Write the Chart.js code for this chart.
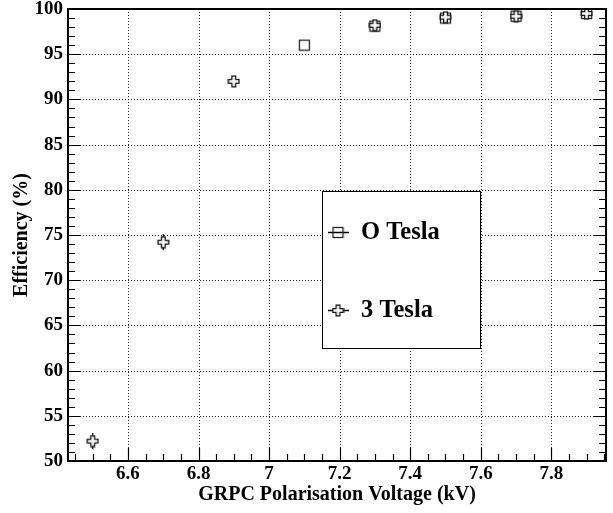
<!DOCTYPE html>
<html lang="en">
<head>
<meta charset="UTF-8">
<title>GRPC efficiency vs polarisation voltage</title>
<script src="https://cdn.jsdelivr.net/npm/chart.js"></script>
<style>
  body { margin: 0; background: #fff; }
  #wrap { width: 613px; height: 513px; }
</style>
</head>
<body>
<div id="wrap"><canvas id="effChart" width="613" height="513"></canvas></div>
<script>
// values
const voltage0T = [7.1, 7.3, 7.5, 7.7, 7.9];
const eff0T = [96.0, 98.1, 99.0, 99.2, 99.5];
const voltage3T = [6.5, 6.7, 6.9, 7.3, 7.5, 7.7, 7.9];
const eff3T = [52.2, 74.2, 92.0, 98.2, 99.1, 99.2, 99.5];
const err3T = [0.9, 0.9, 0.4, 0.6, 0.4, 0.3, 0.4];
const seriesLabels = ['O Tesla', '3 Tesla'];
const xTicks = [6.6, 6.8, 7.0, 7.2, 7.4, 7.6, 7.8];
const yTicks = [50, 55, 60, 65, 70, 75, 80, 85, 90, 95, 100];

const FONT = "'Liberation Serif', 'DejaVu Serif', serif";

// ROOT-like hollow markers
function makeSquare() {
    const c = document.createElement('canvas');
    c.width = 13; c.height = 13;
    const g = c.getContext('2d');
    g.strokeStyle = '#222';
    g.lineWidth = 1.3;
    g.strokeRect(1.5, 1.5, 10, 10);
    return c;
}
function makeOpenCross() {
    const c = document.createElement('canvas');
    c.width = 13; c.height = 13;
    const g = c.getContext('2d');
    const m = 6.5, a = 1.9, s = 5.3;
    g.strokeStyle = '#111';
    g.lineWidth = 1.3;
    g.fillStyle = '#fff';
    g.beginPath();
    g.moveTo(m - a, m - s); g.lineTo(m + a, m - s); g.lineTo(m + a, m - a);
    g.lineTo(m + s, m - a); g.lineTo(m + s, m + a); g.lineTo(m + a, m + a);
    g.lineTo(m + a, m + s); g.lineTo(m - a, m + s); g.lineTo(m - a, m + a);
    g.lineTo(m - s, m + a); g.lineTo(m - s, m - a); g.lineTo(m - a, m - a);
    g.closePath();
    g.fill();
    g.stroke();
    return c;
}
const squareImg = makeSquare();
const crossImg = makeOpenCross();

// grid, frame, ticks, error bars and legend box in ROOT style
const rootStyle = {
    id: 'rootStyle',
    beforeDatasetsDraw(chart) {
        const ctx = chart.ctx, a = chart.chartArea;
        const xs = chart.scales.x, ys = chart.scales.y;
        ctx.save();
        ctx.strokeStyle = '#222';
        ctx.lineWidth = 1;
        ctx.setLineDash([1, 2]);
        xTicks.forEach(v => {
            const px = Math.round(xs.getPixelForValue(v)) + 0.5;
            ctx.beginPath(); ctx.moveTo(px, a.top); ctx.lineTo(px, a.bottom); ctx.stroke();
        });
        yTicks.forEach(v => {
            const py = Math.round(ys.getPixelForValue(v)) + 0.5;
            ctx.beginPath(); ctx.moveTo(a.left, py); ctx.lineTo(a.right, py); ctx.stroke();
        });
        ctx.setLineDash([]);

        // error bars for the 3 Tesla series, outside the marker
        ctx.strokeStyle = '#111';
        ctx.lineWidth = 1.3;
        voltage3T.forEach((v, i) => {
            const px = xs.getPixelForValue(v);
            const py = ys.getPixelForValue(eff3T[i]);
            const lo = ys.getPixelForValue(eff3T[i] - err3T[i]);
            const hi = ys.getPixelForValue(eff3T[i] + err3T[i]);
            ctx.beginPath();
            if (hi < py - 5) { ctx.moveTo(px, py - 5); ctx.lineTo(px, hi); }
            if (lo > py + 5) { ctx.moveTo(px, py + 5); ctx.lineTo(px, lo); }
            ctx.stroke();
        });
        ctx.restore();
    },
    afterDatasetsDraw(chart) {
        const ctx = chart.ctx, a = chart.chartArea;
        const xs = chart.scales.x, ys = chart.scales.y;
        ctx.save();
        ctx.strokeStyle = '#000';

        // ticks: x every 0.05, y every 1
        ctx.lineWidth = 1.2;
        for (let k = Math.ceil(xs.min / 0.05); k * 0.05 <= xs.max; k++) {
            const v = k * 0.05;
            const major = Math.abs(v / 0.2 - Math.round(v / 0.2)) < 1e-6;
            const px = Math.round(xs.getPixelForValue(v)) + 0.5;
            ctx.beginPath(); ctx.moveTo(px, a.bottom); ctx.lineTo(px, a.bottom - (major ? 13 : 7)); ctx.stroke();
        }
        for (let v = ys.min; v <= ys.max; v++) {
            const major = v % 5 === 0;
            const py = Math.round(ys.getPixelForValue(v)) + 0.5;
            const len = major ? 12 : 7;
            ctx.beginPath();
            ctx.moveTo(a.left, py); ctx.lineTo(a.left + len, py);
            ctx.moveTo(a.right, py); ctx.lineTo(a.right - len, py);
            ctx.stroke();
        }

        // frame
        ctx.lineWidth = 2;
        ctx.strokeRect(a.left, a.top, a.right - a.left, a.bottom - a.top);

        // legend box
        const bx = 322, by = 191, bw = 158, bh = 157;
        ctx.fillStyle = '#fff';
        ctx.fillRect(bx, by, bw, bh);
        ctx.lineWidth = 1;
        ctx.strokeRect(bx + 0.5, by + 0.5, bw, bh);
        const rows = [{ y: 232, img: squareImg }, { y: 310, img: crossImg }];
        ctx.font = 'bold 24.5px ' + FONT;
        ctx.textBaseline = 'middle';
        ctx.fillStyle = '#000';
        rows.forEach((r, i) => {
            ctx.lineWidth = 1.5;
            ctx.beginPath(); ctx.moveTo(328, r.y + 0.5); ctx.lineTo(349, r.y + 0.5); ctx.stroke();
            ctx.drawImage(r.img, 338 - 6.5, r.y - 6);
            ctx.fillText(seriesLabels[i], 361, r.y + 1);
        });
        ctx.restore();
    }
};

const tickFont = { family: FONT, size: 19, weight: 'bold' };
const titleFont = { family: FONT, size: 20, weight: 'bold' };

new Chart(document.getElementById('effChart'), {
    type: 'scatter',
    data: {
        datasets: [
            {
                label: seriesLabels[1],
                data: voltage3T.map((v, i) => ({ x: v, y: eff3T[i] })),
                pointStyle: crossImg,
                pointRadius: 6
            },
            {
                label: seriesLabels[0],
                data: voltage0T.map((v, i) => ({ x: v, y: eff0T[i] })),
                pointStyle: squareImg,
                pointRadius: 6
            }
        ]
    },
    options: {
        responsive: false,
        animation: false,
        layout: { padding: { top: 9, right: 2, left: 0, bottom: 0 } },
        plugins: { legend: { display: false }, tooltip: { enabled: false } },
        scales: {
            x: {
                type: 'linear',
                min: 6.43,
                max: 7.955,
                afterBuildTicks: s => { s.ticks = xTicks.map(v => ({ value: v })); },
                afterFit: s => { s.height = 52; s.paddingLeft = 0; s.paddingRight = 0; },
                grid: { display: false, drawTicks: false },
                border: { display: false },
                ticks: {
                    font: tickFont, color: '#000', padding: 2, maxRotation: 0,
                    callback: v => String(+v.toFixed(1))
                },
                title: { display: true, text: 'GRPC Polarisation Voltage (kV)', font: titleFont, color: '#000', padding: { top: 0, bottom: 6 } }
            },
            y: {
                min: 50,
                max: 100,
                afterBuildTicks: s => { s.ticks = yTicks.map(v => ({ value: v })); },
                afterFit: s => { s.width = 68; s.paddingTop = 0; s.paddingBottom = 0; },
                grid: { display: false, drawTicks: false },
                border: { display: false },
                ticks: { font: tickFont, color: '#000', padding: 5 },
                title: { display: true, text: 'Efficiency (%)', font: titleFont, color: '#000', padding: { top: 10, bottom: 0 } }
            }
        }
    },
    plugins: [rootStyle]
});
</script>
</body>
</html>
